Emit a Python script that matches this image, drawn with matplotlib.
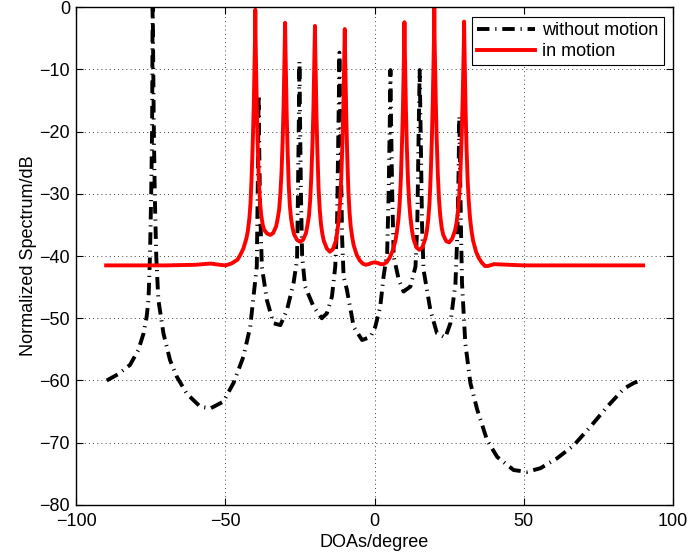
import matplotlib
matplotlib.use("Agg")
import matplotlib.pyplot as plt

plt.rcParams['font.family'] = ['Liberation Sans', 'DejaVu Sans']

# "without motion" spectrum (dB)
x_without = [-89.8, -86.0, -82.0, -79.2, -77.5, -76.4, -75.8, -75.3, -74.9, -74.6, -74.5, -74.4,
             -74.2, -74.0, -73.7, -73.2, -72.5, -70.8, -68.6, -66.3, -63.0, -58.5, -55.1, -50.7,
             -47.3, -44.0, -41.7, -40.6, -39.5, -39.2, -39.0, -38.9, -38.7, -38.4, -37.8, -36.1,
             -33.9, -31.6, -29.4, -27.2, -26.0, -25.7, -25.4, -25.2, -25.0, -24.7, -24.3, -23.3,
             -20.5, -17.7, -16.0, -14.3, -13.2, -12.6, -12.3, -12.0, -11.8, -11.6, -11.3, -10.9,
             -10.4, -9.3, -7.0, -4.2, -1.4, 0.2, 1.9, 3.0, 4.2, 4.7, 5.1, 5.3, 5.5, 5.9,
             6.4, 8.1, 9.7, 12.0, 13.7, 14.3, 14.7, 15.1, 15.5, 15.9, 16.4, 18.7, 20.9, 23.7,
             25.4, 27.1, 27.7, 28.1, 28.4, 28.7, 29.0, 29.3, 30.4, 32.1, 34.4, 37.7, 41.1,
             46.6, 51.1, 55.6, 61.2, 66.8, 72.4, 78.0, 83.6, 86.9, 89.7]
y_without = [-60.0, -59.0, -57.5, -55.1, -52.5, -49.7, -47.0, -40.0, -30.0, -20.0, -10.0, 2.0,
             -10.0, -20.0, -30.0, -40.0, -47.0, -52.4, -56.7, -59.4, -62.1, -64.2, -64.5, -63.4,
             -60.4, -56.2, -51.4, -46.5, -41.7, -30.0, -20.0, -14.1, -22.0, -32.0, -41.7, -47.1,
             -50.8, -51.1, -48.7, -44.4, -40.6, -30.0, -18.0, -8.7, -18.0, -30.0, -40.0, -44.9,
             -48.1, -50.0, -49.2, -46.5, -41.7, -35.0, -25.0, -15.0, -7.3, -15.0, -25.0, -37.0,
             -43.3, -45.4, -51.4, -53.5, -53.0, -51.4, -48.1, -43.3, -39.5, -30.0, -18.0, -10.1, -18.0, -30.0,
             -40.1, -43.8, -45.7, -44.9, -41.7, -35.0, -22.0, -10.1, -22.0, -35.0, -42.2, -48.7, -52.4, -53.1,
             -50.8, -44.4, -37.0, -28.0, -17.5, -28.0, -37.0, -44.4, -54.0, -60.4, -64.7, -69.6, -72.3,
             -74.4, -74.7, -74.1, -72.5, -70.4, -67.4, -64.2, -61.3, -60.4, -59.9]

# "in motion" spectrum (dB)
x_motion = [-90, -80, -70, -60, -55, -52, -50, -48, -46, -45, -44, -43, -42.5, -42, -41.6, -41.2,
            -40.8, -40.5, -40.3, -40.1, -40, -39.9, -39.7, -39.5, -39.2, -38.8, -38.4, -38, -37.5,
            -37, -36, -35, -34, -33, -32.5, -32, -31.6, -31.2, -30.8, -30.5, -30.3, -30.1, -30,
            -29.9, -29.7, -29.5, -29.2, -28.8, -28.4, -28, -27.5, -27, -26, -25, -24, -23, -22.5,
            -22, -21.6, -21.2, -20.8, -20.5, -20.3, -20.1, -20, -19.9, -19.7, -19.5, -19.2, -18.8,
            -18.4, -18, -17.5, -17, -16, -15, -14, -13, -12.5, -12, -11.6, -11.2, -10.8, -10.5,
            -10.3, -10.1, -10, -9.9, -9.7, -9.5, -9.2, -8.8, -8.4, -8, -7.5, -7, -6, -5, -4, -3,
            -2, -1, 0, 1, 2, 3, 4, 5, 6, 7, 7.5, 8, 8.4, 8.8, 9.2, 9.5, 9.7, 9.9, 10, 10.1, 10.3,
            10.5, 10.8, 11.2, 11.6, 12, 12.5, 13, 14, 15, 16, 17, 17.5, 18, 18.4, 18.8, 19.2,
            19.5, 19.7, 19.9, 20, 20.1, 20.3, 20.5, 20.8, 21.2, 21.6, 22, 22.5, 23, 24, 25, 26,
            27, 27.5, 28, 28.4, 28.8, 29.2, 29.5, 29.7, 29.9, 30, 30.1, 30.3, 30.5, 30.8, 31.2,
            31.6, 32, 32.5, 33, 34, 35, 36, 37, 38, 40, 45, 50, 60, 70, 80, 90]
y_motion = [-41.5, -41.5, -41.5, -41.4, -41.2, -41.4, -41.5, -41.2, -40.6, -39.8, -38.8, -37.2,
            -36.0, -34.0, -31.5, -27.0, -21.0, -15.5, -10.0, -5.0, -0.4, -5.0, -10.5, -16.0,
            -22.0, -28.0, -31.5, -33.5, -35.0, -35.8, -36.4, -36.6, -36.3, -35.2, -34.0, -32.5,
            -30.0, -26.5, -21.0, -15.5, -10.5, -6.0, -2.5, -6.0, -11.0, -16.5, -22.5, -28.5,
            -32.0, -34.0, -35.5, -36.5, -37.4, -37.7, -37.4, -36.3, -35.0, -33.5, -31.0, -27.0,
            -21.5, -16.0, -11.0, -6.5, -3.0, -6.5, -11.5, -17.0, -23.0, -29.0, -32.5, -34.8,
            -36.5, -37.6, -38.8, -39.3, -38.9, -37.6, -36.0, -34.0, -31.5, -27.5, -22.0, -16.5,
            -11.5, -7.0, -3.5, -7.0, -12.0, -17.5, -23.5, -29.5, -33.0, -35.3, -37.0, -38.3,
            -39.8, -40.7, -41.2, -41.4, -41.3, -41.1, -41.0, -41.1, -41.3, -41.3, -41.0, -40.3,
            -39.2, -37.5, -36.0, -34.0, -31.5, -27.5, -21.5, -16.0, -11.0, -6.0, -2.4, -6.0,
            -11.0, -16.5, -22.5, -28.0, -31.5, -33.8, -35.8, -37.2, -38.6, -39.0, -38.6, -37.2,
            -36.0, -34.0, -31.5, -27.0, -21.0, -15.0, -10.0, -5.0, 0.0, -5.0, -10.0, -15.0,
            -21.0, -27.0, -31.0, -33.5, -35.5, -36.6, -37.6, -37.8, -37.2, -35.8, -34.5, -32.5,
            -30.0, -26.0, -20.5, -15.0, -10.5, -6.0, -2.3, -6.0, -11.0, -16.5, -22.5, -28.0,
            -31.5, -34.0, -36.0, -37.5, -39.3, -40.4, -41.1, -41.6, -41.6, -41.3, -41.4, -41.5,
            -41.5, -41.5, -41.5, -41.5]

x_ticks = [-100, -50, 0, 50, 100]
y_ticks = [-80, -70, -60, -50, -40, -30, -20, -10, 0]

fig = plt.figure(figsize=(6.88, 5.58), dpi=100)
ax = fig.add_axes([0.1109, 0.0952, 0.8672, 0.8918])

ax.plot(x_without, y_without, color='black', lw=2.8,
        linestyle=(0, (3.2, 1.5, 0.3, 1.5)), label='without motion')
ax.plot(x_motion, y_motion, color='#ff0000', lw=2.8, label='in motion')

ax.set_xlim(-100, 100)
ax.set_ylim(-80, 0)
ax.set_xticks(x_ticks)
ax.set_yticks(y_ticks)
ax.tick_params(direction='in', top=True, right=True, labelsize=13, length=5, width=0.8)
ax.tick_params(axis='x', pad=6)
ax.tick_params(axis='y', pad=4.5)
ax.grid(True, color='black', linestyle=(0, (1, 4)), lw=0.6)
for s in ax.spines.values():
    s.set_linewidth(1.0)

ax.set_xlabel('DOAs/degree', fontsize=13, labelpad=3)
ax.set_ylabel('Normalized Spectrum/dB', fontsize=13, labelpad=2)

leg = ax.legend(loc='upper right', bbox_to_anchor=(0.985, 0.9805), borderaxespad=0,
                fontsize=13, fancybox=False, edgecolor='black', framealpha=1,
                handlelength=3.2, labelspacing=0.2, borderpad=0.3, handletextpad=0.4)
leg.get_frame().set_linewidth(0.8)

fig.savefig('out.png', dpi=100)
